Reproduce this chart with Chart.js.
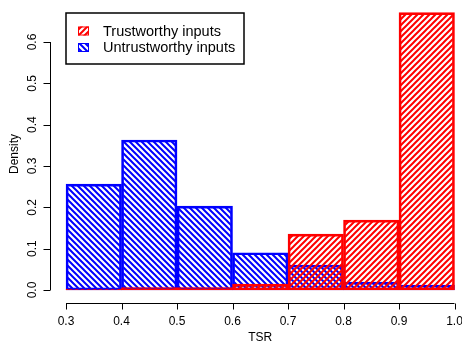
<!DOCTYPE html>
<html>
<head>
<meta charset="utf-8">
<script src="https://cdn.jsdelivr.net/npm/chart.js@4"></script>
<style>
  html, body { margin: 0; padding: 0; background: #fff; }
  canvas { display: block; }
</style>
</head>
<body>
<canvas id="c" width="462" height="343"></canvas>
<script>
// histogram bins and densities
const binEdges = [0.3, 0.4, 0.5, 0.6, 0.7, 0.8, 0.9, 1.0];
const trustworthy = [0.002, 0.006, 0.006, 0.014, 0.135, 0.169, 0.671];
const untrustworthy = [0.256, 0.363, 0.203, 0.090, 0.060, 0.019, 0.012];
const yTicks = [0.0, 0.1, 0.2, 0.3, 0.4, 0.5, 0.6];
const seriesNames = ['Trustworthy inputs', 'Untrustworthy inputs'];
const seriesColors = ['#ff0000', '#0000ff'];

const FONT = '"Liberation Sans", Arial, Helvetica, sans-serif';
const canvas = document.getElementById('c');
const ctx = canvas.getContext('2d');

// diagonal hatching like R's density/angle fill
function hatch(color, dir) {
  const s = 6;
  const p = document.createElement('canvas');
  p.width = s; p.height = s;
  const g = p.getContext('2d');
  g.strokeStyle = color;
  g.lineWidth = 2;
  g.beginPath();
  if (dir > 0) {
    g.moveTo(-1, s + 1); g.lineTo(s + 1, -1);
    g.moveTo(-1, 1); g.lineTo(1, -1);
    g.moveTo(s - 1, s + 1); g.lineTo(s + 1, s - 1);
  } else {
    g.moveTo(-1, -1); g.lineTo(s + 1, s + 1);
    g.moveTo(s - 1, -1); g.lineTo(s + 1, 1);
    g.moveTo(-1, s - 1); g.lineTo(1, s + 1);
  }
  g.stroke();
  return ctx.createPattern(p, 'repeat');
}
const patterns = [hatch(seriesColors[0], 1), hatch(seriesColors[1], -1)];

const centers = binEdges.slice(0, -1).map((e, i) => (e + binEdges[i + 1]) / 2);
const toPoints = vals => vals.map((v, i) => ({ x: centers[i], y: v }));

// R style axes, axis titles and legend
const rDecor = {
  id: 'rDecor',
  afterDraw(chart) {
    const { ctx, chartArea: a, scales: { x, y } } = chart;
    ctx.save();
    ctx.strokeStyle = '#000';
    ctx.fillStyle = '#000';
    ctx.lineWidth = 1;
    ctx.font = '12px ' + FONT;

    // x axis
    const xb = a.bottom + 0.5;
    ctx.beginPath();
    ctx.moveTo(x.getPixelForValue(binEdges[0]), xb);
    ctx.lineTo(x.getPixelForValue(binEdges[binEdges.length - 1]), xb);
    binEdges.forEach(v => {
      const px = Math.round(x.getPixelForValue(v)) + 0.5;
      ctx.moveTo(px, xb);
      ctx.lineTo(px, xb + 6);
    });
    ctx.stroke();
    ctx.textAlign = 'center';
    ctx.textBaseline = 'middle';
    binEdges.forEach(v => ctx.fillText(v.toFixed(1), x.getPixelForValue(v), 322));
    ctx.fillText('TSR', (x.getPixelForValue(binEdges[0]) + x.getPixelForValue(binEdges[binEdges.length - 1])) / 2, 338);

    // y axis
    const yl = a.left + 0.5;
    ctx.beginPath();
    ctx.moveTo(yl, y.getPixelForValue(yTicks[0]));
    ctx.lineTo(yl, y.getPixelForValue(yTicks[yTicks.length - 1]));
    yTicks.forEach(v => {
      const py = Math.round(y.getPixelForValue(v)) + 0.5;
      ctx.moveTo(yl, py);
      ctx.lineTo(yl - 7, py);
    });
    ctx.stroke();
    yTicks.forEach(v => {
      ctx.save();
      ctx.translate(33, y.getPixelForValue(v));
      ctx.rotate(-Math.PI / 2);
      ctx.fillText(v.toFixed(1), 0, 0);
      ctx.restore();
    });
    ctx.save();
    ctx.translate(15, (a.top + a.bottom) / 2);
    ctx.rotate(-Math.PI / 2);
    ctx.fillText('Density', 0, 0);
    ctx.restore();

    // legend
    ctx.lineWidth = 1.5;
    ctx.strokeRect(66, 13, 178, 51);
    ctx.font = '14.5px ' + FONT;
    ctx.textAlign = 'left';
    seriesNames.forEach((name, i) => {
      const cy = 31 + i * 16.5;
      ctx.fillStyle = '#fff';
      ctx.fillRect(78, cy - 4.5, 11, 9);
      ctx.fillStyle = patterns[i];
      ctx.fillRect(78, cy - 4.5, 11, 9);
      ctx.strokeStyle = seriesColors[i];
      ctx.lineWidth = 1;
      ctx.strokeRect(78.5, cy - 4, 10, 8);
      ctx.fillStyle = '#000';
      ctx.fillText(name, 103, cy + 0.5);
    });
    ctx.restore();
  }
};

new Chart(ctx, {
  type: 'bar',
  data: {
    datasets: [
      {
        label: seriesNames[0],
        data: toPoints(trustworthy),
        backgroundColor: patterns[0],
        borderColor: seriesColors[0],
        borderWidth: 2,
        borderSkipped: false
      },
      {
        label: seriesNames[1],
        data: toPoints(untrustworthy),
        backgroundColor: patterns[1],
        borderColor: seriesColors[1],
        borderWidth: 2,
        borderSkipped: false
      }
    ]
  },
  options: {
    responsive: false,
    animation: false,
    grouped: false,
    barPercentage: 1,
    categoryPercentage: 1,
    layout: { padding: { left: 50, right: 6, top: 5, bottom: 40 } },
    plugins: {
      legend: { display: false },
      tooltip: { enabled: false }
    },
    scales: {
      x: {
        type: 'linear',
        display: false,
        offset: false,
        min: 0.2711,
        max: 1.0027
      },
      y: {
        display: false,
        min: -0.0315,
        max: 0.6896
      }
    }
  },
  plugins: [rDecor]
});
</script>
</body>
</html>
